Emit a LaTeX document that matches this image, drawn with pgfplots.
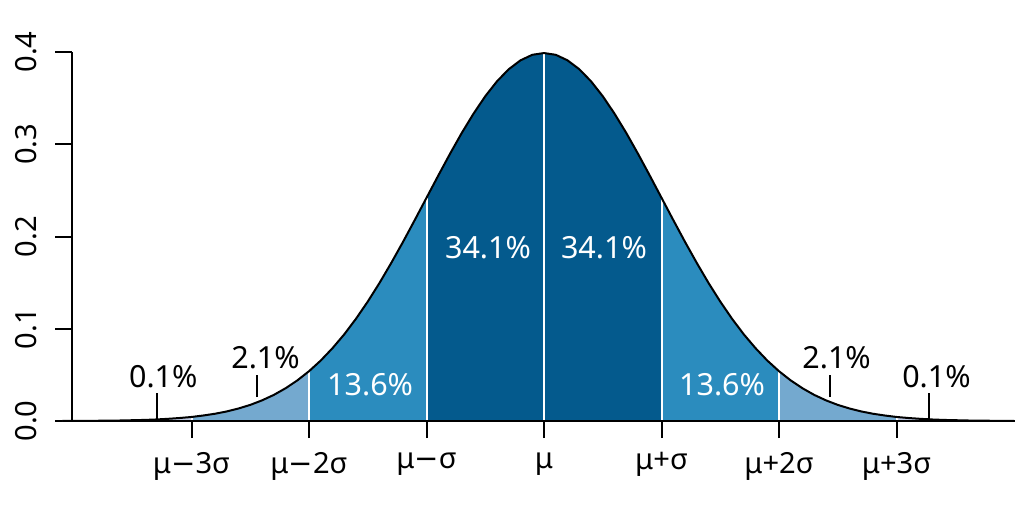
\documentclass[border=0pt]{standalone}
\usepackage{pgfplots}
\pgfplotsset{compat=1.18}
\usepackage{pgfplotstable}
\usepackage{fontspec}
\setmainfont{Noto Sans}
\newfontfamily\dv{DejaVu Sans}
\definecolor{cDark}{HTML}{045A8D}
\definecolor{cMid}{HTML}{2B8CBE}
\definecolor{cLight}{HTML}{74A9CF}
\definecolor{cPale}{HTML}{BDC9E1}
\pgfplotstableread{
x y
-4.1 0.0001
-4.0 0.0001
-3.9 0.0002
-3.8 0.0003
-3.7 0.0004
-3.6 0.0006
-3.5 0.0009
-3.4 0.0012
-3.3 0.0017
-3.2 0.0024
-3.1 0.0033
-3.0 0.0044
-2.9 0.0060
-2.8 0.0079
-2.7 0.0104
-2.6 0.0136
-2.5 0.0175
-2.4 0.0224
-2.3 0.0283
-2.2 0.0355
-2.1 0.0440
-2.0 0.0540
-1.9 0.0656
-1.8 0.0790
-1.7 0.0940
-1.6 0.1109
-1.5 0.1295
-1.4 0.1497
-1.3 0.1714
-1.2 0.1942
-1.1 0.2179
-1.0 0.2420
-0.9 0.2661
-0.8 0.2897
-0.7 0.3123
-0.6 0.3332
-0.5 0.3521
-0.4 0.3683
-0.3 0.3814
-0.2 0.3910
-0.1 0.3970
0.0 0.3989
0.1 0.3970
0.2 0.3910
0.3 0.3814
0.4 0.3683
0.5 0.3521
0.6 0.3332
0.7 0.3123
0.8 0.2897
0.9 0.2661
1.0 0.2420
1.1 0.2179
1.2 0.1942
1.3 0.1714
1.4 0.1497
1.5 0.1295
1.6 0.1109
1.7 0.0940
1.8 0.0790
1.9 0.0656
2.0 0.0540
2.1 0.0440
2.2 0.0355
2.3 0.0283
2.4 0.0224
2.5 0.0175
2.6 0.0136
2.7 0.0104
2.8 0.0079
2.9 0.0060
3.0 0.0044
3.1 0.0033
3.2 0.0024
3.3 0.0017
3.4 0.0012
3.5 0.0009
3.6 0.0006
3.7 0.0004
3.8 0.0003
3.9 0.0002
4.0 0.0001
}\pdftable
\begin{document}
\begin{tikzpicture}
\begin{axis}[
  x=58.75bp, y=461.25bp,
  xmin=-4.017, xmax=4.009, ymin=0, ymax=0.4,
  axis lines=left,
  axis line style={-, line width=1bp, black},
  tick align=outside,
  major tick length=8.5bp,
  tick style={black, line width=1bp},
  xtick={-3,-2,-1,0,1,2,3},
  xticklabels={μ{\dv −}3σ,μ{\dv −}2σ,μ{\dv −}σ,μ,μ+σ,μ+2σ,μ+3σ},
  ytick={0,0.1,0.2,0.3,0.4},
  yticklabels={0.0,0.1,0.2,0.3,0.4},
  yticklabel style={rotate=90, anchor=south, inner sep=0pt, yshift=9bp},
  xticklabel style={anchor=north, inner sep=0pt, yshift=-7bp},
  tick label style={font=\fontsize{14.6}{17}\selectfont},
  clip=false,
  axis on top=false,
]
\addplot[fill=cPale, draw=none, restrict x to domain=-4.1:-3] table {\pdftable} \closedcycle;
\addplot[fill=cLight, draw=none, restrict x to domain=-3:-2] table {\pdftable} \closedcycle;
\addplot[fill=cMid, draw=none, restrict x to domain=-2:-1] table {\pdftable} \closedcycle;
\addplot[fill=cDark, draw=none, restrict x to domain=-1:1] table {\pdftable} \closedcycle;
\addplot[fill=cMid, draw=none, restrict x to domain=1:2] table {\pdftable} \closedcycle;
\addplot[fill=cLight, draw=none, restrict x to domain=2:3] table {\pdftable} \closedcycle;
\addplot[fill=cPale, draw=none, restrict x to domain=3:4.0] table {\pdftable} \closedcycle;
% white separators
\addplot[white, line width=1bp] coordinates {(-3,0.0005) (-3,0.0044)};
\addplot[white, line width=1bp] coordinates {(-2,0.0005) (-2,0.0540)};
\addplot[white, line width=1bp] coordinates {(-1,0.0005) (-1,0.2420)};
\addplot[white, line width=1bp] coordinates {(0,0.0005) (0,0.3989)};
\addplot[white, line width=1bp] coordinates {(1,0.0005) (1,0.2420)};
\addplot[white, line width=1bp] coordinates {(2,0.0005) (2,0.0540)};
\addplot[white, line width=1bp] coordinates {(3,0.0005) (3,0.0044)};
% curve
\addplot[black, line width=1bp] table {\pdftable};
% baseline
\addplot[black, line width=1bp] coordinates {(-4.017,0) (4.009,0)};
% label pointer ticks
\addplot[black, line width=1bp] coordinates {(-3.29,0.0022) (-3.29,0.0304)};
\addplot[black, line width=1bp] coordinates {(-2.44,0.026) (-2.44,0.0499)};
\addplot[black, line width=1bp] coordinates {(2.43,0.026) (2.43,0.0499)};
\addplot[black, line width=1bp] coordinates {(3.28,0.0022) (3.28,0.0304)};
% labels
\begin{scope}[every node/.style={font=\fontsize{15.3}{18}\selectfont, inner sep=0pt}]
\node[black] at (axis cs:-3.24,0.0477) {0.1\%};
\node[black] at (axis cs:-2.37,0.0683) {2.1\%};
\node[white] at (axis cs:-1.48,0.039) {13.6\%};
\node[white] at (axis cs:-0.477,0.1875) {34.1\%};
\node[white] at (axis cs:0.51,0.1875) {34.1\%};
\node[white] at (axis cs:1.515,0.039) {13.6\%};
\node[black] at (axis cs:2.49,0.0683) {2.1\%};
\node[black] at (axis cs:3.34,0.0477) {0.1\%};
\end{scope}
\coordinate (bl) at (axis cs:-4.630,-0.0986);
\coordinate (tr) at (axis cs:4.085,0.4564);
\end{axis}
\pgfresetboundingbox
\useasboundingbox (bl) rectangle (tr);
\end{tikzpicture}
\end{document}
